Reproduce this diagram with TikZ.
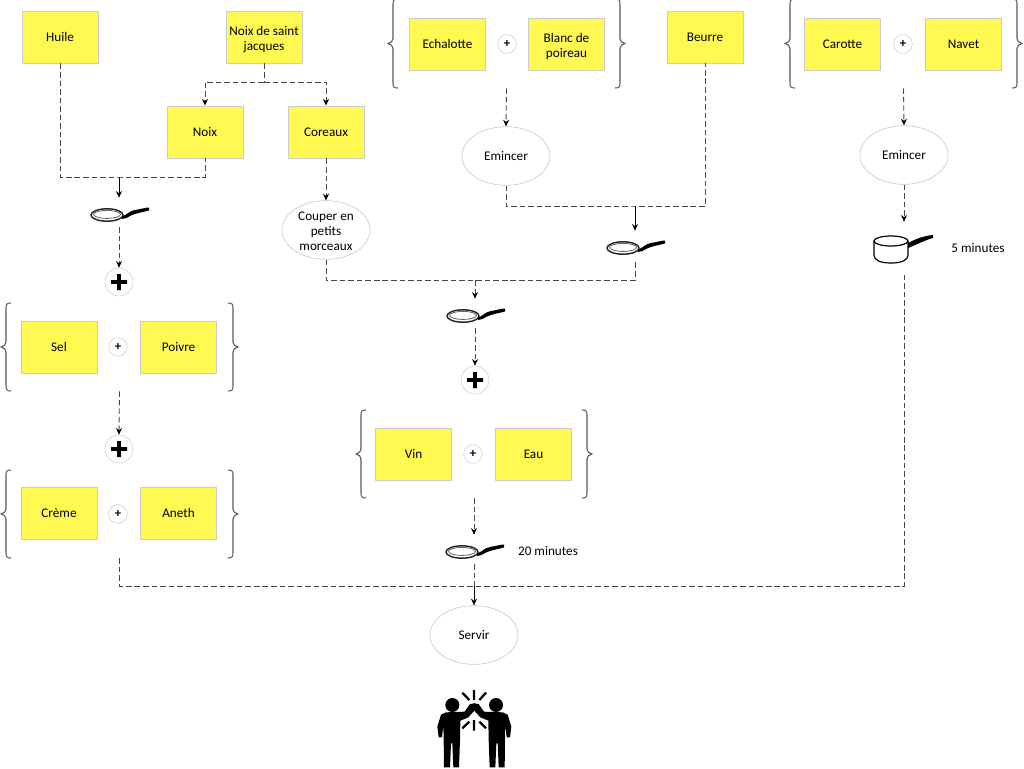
\documentclass[tikz,border=0pt]{standalone}
\usepackage{fontspec}
\setmainfont{Carlito}
\usetikzlibrary{arrows.meta,shapes.geometric}
\definecolor{noteyellow}{HTML}{FFF952}
\newcommand{\toppad}[1]{\rule{0pt}{#1pt}}
\tikzset{
  x=0.75pt,y=-0.75pt,
  stickybox/.style={draw=black!20,line width=0.7pt,fill=noteyellow,minimum width=57pt,minimum height=39pt,inner sep=1pt,align=center,font=\fontsize{9.9}{11.25}\selectfont,text=black,execute at begin node={\rule{0pt}{10.2pt}},execute at end node=\strut},
  bubble/.style={draw=black!22,line width=0.45pt,fill=white,ellipse,minimum width=66pt,minimum height=44pt,inner sep=0pt,align=center,font=\fontsize{9.9}{11.25}\selectfont,text=black,execute at begin node={\rule{0pt}{10.2pt}},execute at end node=\strut},
  smallplus/.style={draw=black!18,line width=0.45pt,fill=white,circle,minimum size=14pt,inner sep=0pt,font=\fontsize{9.5}{9.5}\selectfont\bfseries},
  bigplus/.style={draw=black!18,line width=0.45pt,fill=white,circle,minimum size=21pt,inner sep=0pt},
  freetext/.style={font=\fontsize{9.9}{11.25}\selectfont,text=black},
  hookbox/.style={inner sep=0pt,minimum width=45pt,minimum height=21.75pt},
  groupframe/.style={inner sep=0pt},
  bracket/.style={draw=black!65,line width=0.8pt},
  dashlink/.style={draw=black!72,line width=0.65pt,dash pattern=on 4.2pt off 2.2pt},
  dasharrow/.style={dashlink,-{Stealth[length=5pt,width=4.5pt,black]}},
  solidarrow/.style={draw=black,line width=0.65pt,-{Stealth[length=5pt,width=4.5pt,black]}},
}
% group of two boxes held between braces: name, left spine, top, right spine, bottom
\newcommand{\bracegroup}[5]{%
  \node[groupframe,minimum width={(#4-#2)*0.75pt},minimum height={(#5-#3)*0.75pt}] (#1) at ({(#2+#4)/2},{(#3+#5)/2}) {};
  \draw[bracket] ({#2+5},#3) .. controls ({#2+1},#3) and ({#2},{#3+1}) .. ({#2},{#3+5}) -- ({#2},{(#3+#5)/2-5}) .. controls ({#2},{(#3+#5)/2-2}) and ({#2-2},{(#3+#5)/2-1}) .. ({#2-5},{(#3+#5)/2}) .. controls ({#2-2},{(#3+#5)/2+1}) and ({#2},{(#3+#5)/2+2}) .. ({#2},{(#3+#5)/2+5}) -- ({#2},{#5-5}) .. controls ({#2},{#5-1}) and ({#2+1},#5) .. ({#2+5},#5);
  \draw[bracket] ({#4-5},#3) .. controls ({#4-1},#3) and ({#4},{#3+1}) .. ({#4},{#3+5}) -- ({#4},{(#3+#5)/2-5}) .. controls ({#4},{(#3+#5)/2-2}) and ({#4+2},{(#3+#5)/2-1}) .. ({#4+5},{(#3+#5)/2}) .. controls ({#4+2},{(#3+#5)/2+1}) and ({#4},{(#3+#5)/2+2}) .. ({#4},{(#3+#5)/2+5}) -- ({#4},{#5-5}) .. controls ({#4},{#5-1}) and ({#4-1},#5) .. ({#4-5},#5);
}
% frying pan: name, x, y
\newcommand{\fryingpan}[3]{%
  \node[hookbox] (#1) at (#2,{#3-2.5}) {};
  \begin{scope}[shift={(#2,#3)}]
    \draw[black!85,line width=1.1pt] (-12,0) ellipse [x radius=16,y radius=6.2];
    \draw[black!60,line width=0.6pt] (-12,-0.6) ellipse [x radius=13.5,y radius=4];
    \fill[black] (3,1.5) .. controls (8,0) and (10,-4) .. (16,-5) .. controls (22,-6) and (27,-7.5) .. (30,-7.5) -- (30,-4.5) .. controls (24,-3) and (16,-1.5) .. (12,0.5) .. controls (9,2.5) and (6,4) .. (3,4) -- cycle;
  \end{scope}
}
\begin{document}
\begin{tikzpicture}
\fill[white] (0,0) rectangle (1024,768);
\useasboundingbox (0,0) rectangle (1024,768);

% boxes
\node[stickybox] (huile) at (60,37) {Huile};
\node[stickybox] (saint) at (264,37) {\toppad{12}Noix de saint\\jacques};
\node[stickybox] (noix) at (205,132) {Noix};
\node[stickybox] (coreaux) at (326,132) {Coreaux};
\node[stickybox] (echalotte) at (447.5,44) {Echalotte};
\node[stickybox] (blanc) at (566.5,44) {\toppad{12}Blanc de\\poireau};
\node[stickybox] (beurre) at (705,37) {Beurre};
\node[stickybox] (carotte) at (842.5,44) {Carotte};
\node[stickybox] (navet) at (963.5,44) {Navet};
\node[stickybox] (sel) at (59,347) {Sel};
\node[stickybox] (poivre) at (178.5,347) {Poivre};
\node[stickybox] (creme) at (59,513) {Crème};
\node[stickybox] (aneth) at (178.5,513) {Aneth};
\node[stickybox] (vin) at (413.5,454) {Vin};
\node[stickybox] (eau) at (533.5,454) {Eau};

% small plus
\node[smallplus] (plusa) at (507,44) {+};
\node[smallplus] (plusb) at (903,44) {+};
\node[smallplus] (plusc) at (118,347) {+};
\node[smallplus] (plusd) at (118,514) {+};
\node[smallplus] (pluse) at (473,454) {+};

% brace groups
\bracegroup{gechalotte}{393}{-1}{620}{88}
\bracegroup{gcarotte}{790}{-1}{1017}{88}
\bracegroup{gsel}{6}{303}{233}{391}
\bracegroup{gcreme}{6}{470}{233}{558}
\bracegroup{gvin}{361}{410}{587}{498}

% big plus
\foreach \nm/\px/\py in {bigplusa/119/282,bigplusb/119/449,bigplusc/475/380}{
  \node[bigplus] (\nm) at (\px,\py) {};
  \fill[black] ({\px-8},{\py-1.8}) -- ({\px-1.8},{\py-1.8}) -- ({\px-1.8},{\py-8}) -- ({\px+1.8},{\py-8}) -- ({\px+1.8},{\py-1.8}) -- ({\px+8},{\py-1.8}) -- ({\px+8},{\py+1.8}) -- ({\px+1.8},{\py+1.8}) -- ({\px+1.8},{\py+8}) -- ({\px-1.8},{\py+8}) -- ({\px-1.8},{\py+1.8}) -- ({\px-8},{\py+1.8}) -- ({\px-8},{\py-1.8}) -- cycle;
}

% ellipses
\node[bubble] (emincera) at (506,156) {Emincer};
\node[bubble] (eminceb) at (904,155) {Emincer};
\node[bubble,inner sep=-5pt] (couper) at (326,230) {\toppad{11}Couper en\\petits\\morceaux};
\node[bubble] (servir) at (474,635) {Servir};

% pans
\fryingpan{pana}{119}{215}
\fryingpan{panb}{635}{248}
\fryingpan{panc}{475}{316}
\fryingpan{pand}{474}{552}

% saucepan
\node[hookbox,minimum height=38.25pt] (sauce) at (904,247.5) {};
\draw[black,line width=0.9pt,fill=white] (874,241) -- (874,255) .. controls (874,260) and (880,263) .. (891,263) .. controls (902,263) and (908,260) .. (908,255) -- (908,241);
\draw[black,line width=0.9pt,fill=white] (891,241) ellipse [x radius=17,y radius=5];
\fill[black] (908,243) .. controls (914,240) and (922,236) .. (933,235) -- (933,238) .. controls (925,240) and (916,245) .. (908,248) -- cycle;

% free texts
\node[freetext] (fivemin) at (978,248) {5 minutes};
\node[freetext] (twentymin) at (548,551) {20 minutes};

% junctions
\coordinate (ja) at (119,177);
\coordinate (jb) at (264,82);
\coordinate (jc) at (635,206);
\coordinate (jd) at (475,280);
\coordinate (je) at (474,586);

% connectors
\draw[dashlink] (huile.south) |- (ja) -| (noix.south);
\draw[solidarrow] (ja) -- (pana.north);
\draw[dasharrow] (pana.south) -- (bigplusa.north);
\draw[dashlink] (saint.south) -- (jb);
\draw[dasharrow] (jb) -| (noix.north);
\draw[dasharrow] (jb) -| (coreaux.north);
\draw[dasharrow] (coreaux.south) -- (couper.north);
\draw[dasharrow] (gechalotte.south) -- (emincera.north);
\draw[dashlink] (emincera.south) |- (jc) -| (beurre.south);
\draw[solidarrow] (jc) -- (panb.north);
\draw[dashlink] (couper.south) |- (jd) -| (panb.south);
\draw[dasharrow] (jd) -- (panc.north);
\draw[dasharrow] (panc.south) -- (bigplusc.north);
\draw[dasharrow] (gvin.south) -- (pand.north);
\draw[dasharrow] (gcarotte.south) -- (eminceb.north);
\draw[dasharrow] (eminceb.south) -- (sauce.north);
\draw[dasharrow] (gsel.south) -- (bigplusb.north);
\draw[dashlink] (gcreme.south) |- (je) -| (sauce.south);
\draw[dashlink] (pand.south) -- (je);
\draw[solidarrow] (je) -- (servir.north);

% high five (sketched in 3x crop units)
\begin{scope}[shift={(420,680)},x=0.25pt,y=-0.25pt]
  \fill[black] (97,75) circle [radius=21];
  \fill[black] (228,75) circle [radius=21];
  \foreach \sx/\ox in {1/0,-1/326}{
    \begin{scope}[shift={(\ox,0)},xscale=\sx]
      \fill[black] (78,97) -- (134,95) -- (150,72) -- (166,70) -- (170,84) -- (145,112) -- (121,122) -- (120,180) -- (117,262) -- (100,262) -- (97,190) -- (93,190) -- (90,262) -- (72,262) -- (71,178) -- (70,135) -- (66,172) -- (56,172) -- (52,140) -- (63,104) -- cycle;
    \end{scope}
  }
  \draw[black,line width=1.7pt] (162,30) -- (162,60) (127,38) -- (148,60) (198,38) -- (178,60) (162,120) -- (162,152) (127,145) -- (148,125) (198,145) -- (178,125);
\end{scope}
\end{tikzpicture}
\end{document}
